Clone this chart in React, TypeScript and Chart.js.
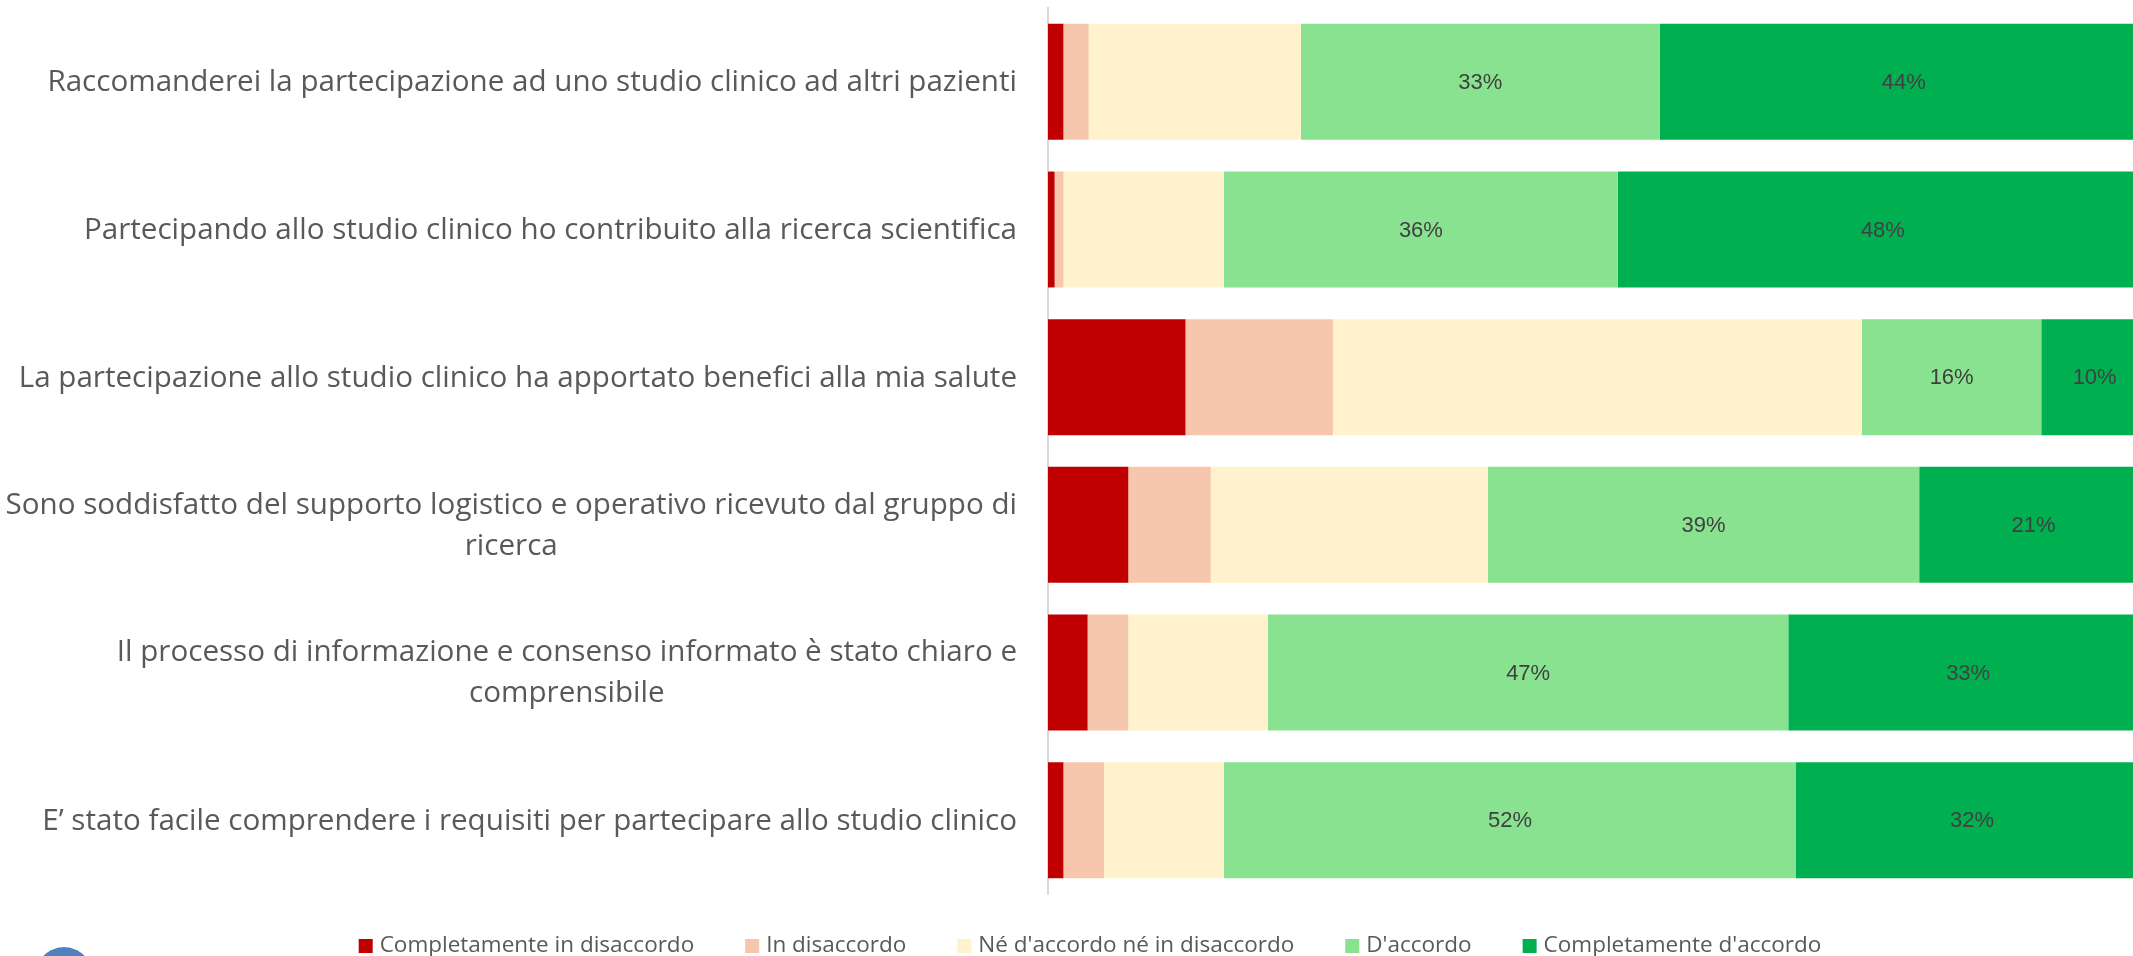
import React, { useEffect, useRef } from 'react';
import { Chart, registerables } from 'chart.js';

Chart.register(...registerables);

// ---- Data ----
const categories: string[][] = [
  ['Raccomanderei la partecipazione ad uno studio clinico ad altri pazienti'],
  ['Partecipando allo studio clinico ho contribuito alla ricerca scientifica'],
  ['La partecipazione allo studio clinico ha apportato benefici alla mia salute'],
  ['Sono soddisfatto del supporto logistico e operativo ricevuto dal gruppo di', 'ricerca'],
  ['Il processo di informazione e consenso informato è stato chiaro e', 'comprensibile'],
  ['E’ stato facile comprendere i requisiti per partecipare allo studio clinico'],
];

const seriesLabels = [
  'Completamente in disaccordo',
  'In disaccordo',
  "Né d'accordo né in disaccordo",
  "D'accordo",
  "Completamente d'accordo",
];

const completamenteInDisaccordo = [1.4, 0.6, 12.5, 7.3, 3.6, 1.4];
const inDisaccordo = [2.3, 0.8, 13.4, 7.5, 3.7, 3.7];
const neDaccordoNeInDisaccordo = [19.3, 14.6, 48.1, 25.2, 12.7, 10.9];
const dAccordo = [32.6, 35.8, 16.3, 39.2, 47.3, 52];
const completamenteDAccordo = [44.4, 48.2, 9.7, 20.8, 32.7, 32];

const seriesColors = ['#C00000', '#F6C6AD', '#FFF2CC', '#88E290', '#00B050'];
const labelledSeries = [3, 4];

const CANVAS_W = 2148;
const CANVAS_H = 956;

const decorPlugin = {
  id: 'decor',
  afterDatasetsDraw(chart: any) {
    const ctx: CanvasRenderingContext2D = chart.ctx;
    const yScale = chart.scales.y;
    const area = chart.chartArea;
    ctx.save();

    // data labels on the agreement series
    ctx.font = '22px "Liberation Sans", Arial, sans-serif';
    ctx.fillStyle = '#404040';
    ctx.textAlign = 'center';
    ctx.textBaseline = 'middle';
    labelledSeries.forEach((di) => {
      const meta = chart.getDatasetMeta(di);
      meta.data.forEach((el: any, i: number) => {
        const v = chart.data.datasets[di].data[i] as number;
        const p = el.getCenterPoint();
        ctx.fillText(Math.round(v) + '%', p.x, p.y + 1);
      });
    });

    // category labels (right-aligned block, centred lines)
    ctx.font = '29.6px "Open Sans", sans-serif';
    ctx.fillStyle = '#595959';
    const right = area.left - 31;
    const lh = 41;
    categories.forEach((lines, i) => {
      const yc = yScale.getPixelForValue(i);
      const w = Math.max(...lines.map((l) => ctx.measureText(l).width));
      const cx = right - w / 2;
      lines.forEach((l, j) => {
        ctx.fillText(l, cx, yc + 1 + (j - (lines.length - 1) / 2) * lh);
      });
    });

    // legend
    ctx.font = '22.5px "Open Sans", sans-serif';
    ctx.textAlign = 'left';
    const box = 14;
    const gap = 7;
    const spacing = 51;
    const ds = chart.data.datasets;
    const widths = ds.map((d: any) => box + gap + ctx.measureText(d.label).width);
    const total = widths.reduce((a: number, b: number) => a + b, 0) + spacing * (ds.length - 1);
    let x = 1090 - total / 2;
    const ly = 946;
    ds.forEach((d: any, k: number) => {
      ctx.fillStyle = d.backgroundColor;
      ctx.fillRect(x, ly - box / 2, box, box);
      ctx.fillStyle = '#595959';
      ctx.fillText(d.label, x + box + gap, ly);
      x += widths[k] + spacing;
    });

    // partial logo shape at bottom-left
    ctx.fillStyle = '#4F81BD';
    ctx.beginPath();
    ctx.ellipse(64, 990, 34, 43, 0, 0, Math.PI * 2);
    ctx.fill();

    ctx.restore();
  },
};

export default function App() {
  const canvasRef = useRef<HTMLCanvasElement | null>(null);

  useEffect(() => {
    const canvas = canvasRef.current;
    if (!canvas) return;
    const series = [
      completamenteInDisaccordo,
      inDisaccordo,
      neDaccordoNeInDisaccordo,
      dAccordo,
      completamenteDAccordo,
    ];
    const chart = new Chart(canvas, {
      type: 'bar',
      data: {
        labels: categories,
        datasets: series.map((data, k) => ({
          label: seriesLabels[k],
          data,
          backgroundColor: seriesColors[k],
          borderWidth: 0,
          barPercentage: 0.785,
          categoryPercentage: 1,
        })),
      },
      options: {
        indexAxis: 'y',
        responsive: false,
        animation: false,
        layout: { padding: { top: 8, bottom: 62, left: 0, right: 0 } },
        scales: {
          x: {
            stacked: true,
            min: 0,
            max: 100,
            display: false,
          },
          y: {
            stacked: true,
            grid: { display: false },
            ticks: { display: false },
            border: { display: true, color: '#D9D9D9', width: 2 },
            afterFit: (scale: any) => {
              scale.width = 1048;
            },
          },
        },
        plugins: {
          legend: { display: false },
          tooltip: { enabled: false },
        },
      },
      plugins: [decorPlugin],
    });
    return () => chart.destroy();
  }, []);

  return (
    <div
      style={{
        position: 'fixed',
        left: 0,
        top: 0,
        width: 2133,
        height: 956,
        overflow: 'hidden',
        background: '#FFFFFF',
      }}
    >
      <canvas
        ref={canvasRef}
        width={CANVAS_W}
        height={CANVAS_H}
        style={{ width: CANVAS_W, height: CANVAS_H, display: 'block' }}
      />
    </div>
  );
}
